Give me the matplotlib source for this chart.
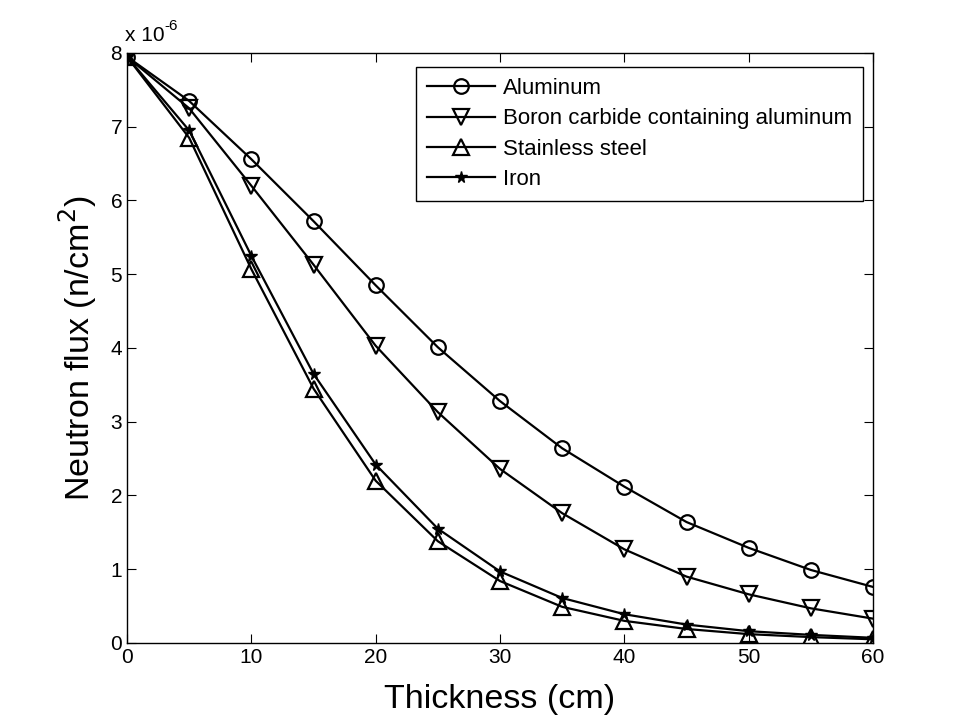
import numpy as np
import matplotlib.pyplot as plt

plt.rcParams['font.family'] = ['Liberation Sans', 'DejaVu Sans']

thickness = [0, 5, 10, 15, 20, 25, 30, 35, 40, 45, 50, 55, 60]
# neutron flux in units of 1e-6 n/cm^2
aluminum = [7.95, 7.35, 6.56, 5.72, 4.85, 4.01, 3.28, 2.64, 2.12, 1.64, 1.29, 0.99, 0.76]
boron = [7.95, 7.25, 6.20, 5.13, 4.03, 3.13, 2.36, 1.76, 1.27, 0.90, 0.66, 0.47, 0.33]
stainless = [7.95, 6.85, 5.07, 3.45, 2.20, 1.38, 0.84, 0.49, 0.30, 0.19, 0.12, 0.08, 0.05]
iron = [7.95, 6.95, 5.25, 3.65, 2.42, 1.55, 0.97, 0.61, 0.39, 0.25, 0.16, 0.11, 0.07]

fig = plt.figure(figsize=(9.65, 7.24), dpi=100)
ax = fig.add_axes([0.1316, 0.1119, 0.7731, 0.8149])

ax.plot(thickness, aluminum, 'k-o', lw=1.6, ms=10.5, mfc='none', mew=1.6, label='Aluminum')
ax.plot(thickness, boron, 'k-v', lw=1.6, ms=11, mfc='none', mew=1.6,
        label='Boron carbide containing aluminum')
ax.plot(thickness, stainless, 'k-^', lw=1.6, ms=11, mfc='none', mew=1.6, label='Stainless steel')
ax.plot(thickness, iron, 'k-*', lw=1.6, ms=8.5, label='Iron')

ax.set_xlim(0, 60)
ax.set_ylim(0, 8)
ax.set_xticks(range(0, 61, 10))
ax.set_yticks(range(0, 9))
ax.tick_params(direction='in', top=True, right=True, labelsize=15, length=6.5, pad=3.5)
for s in ax.spines.values():
    s.set_linewidth(1.0)

ax.set_xlabel('Thickness (cm)', fontsize=24.5, labelpad=12)
ax.set_ylabel('Neutron flux (n/cm$^2$)', fontsize=24.5, labelpad=8)

# exponent label in the MATLAB style
base = ax.text(-0.003, 1.014, 'x 10', transform=ax.transAxes, fontsize=15, va='bottom', ha='left')
ax.annotate('-6', xy=(1.0, 0.62), xycoords=base, fontsize=11, va='bottom', ha='left')

leg = ax.legend(loc='upper right', bbox_to_anchor=(0.9866, 0.9763), fontsize=16,
                fancybox=False, edgecolor='black', framealpha=1, borderpad=0.5,
                labelspacing=0.42, handlelength=3.05, handletextpad=0.36, borderaxespad=0)
leg.get_frame().set_linewidth(1.0)

fig.savefig('out.png', dpi=100)
